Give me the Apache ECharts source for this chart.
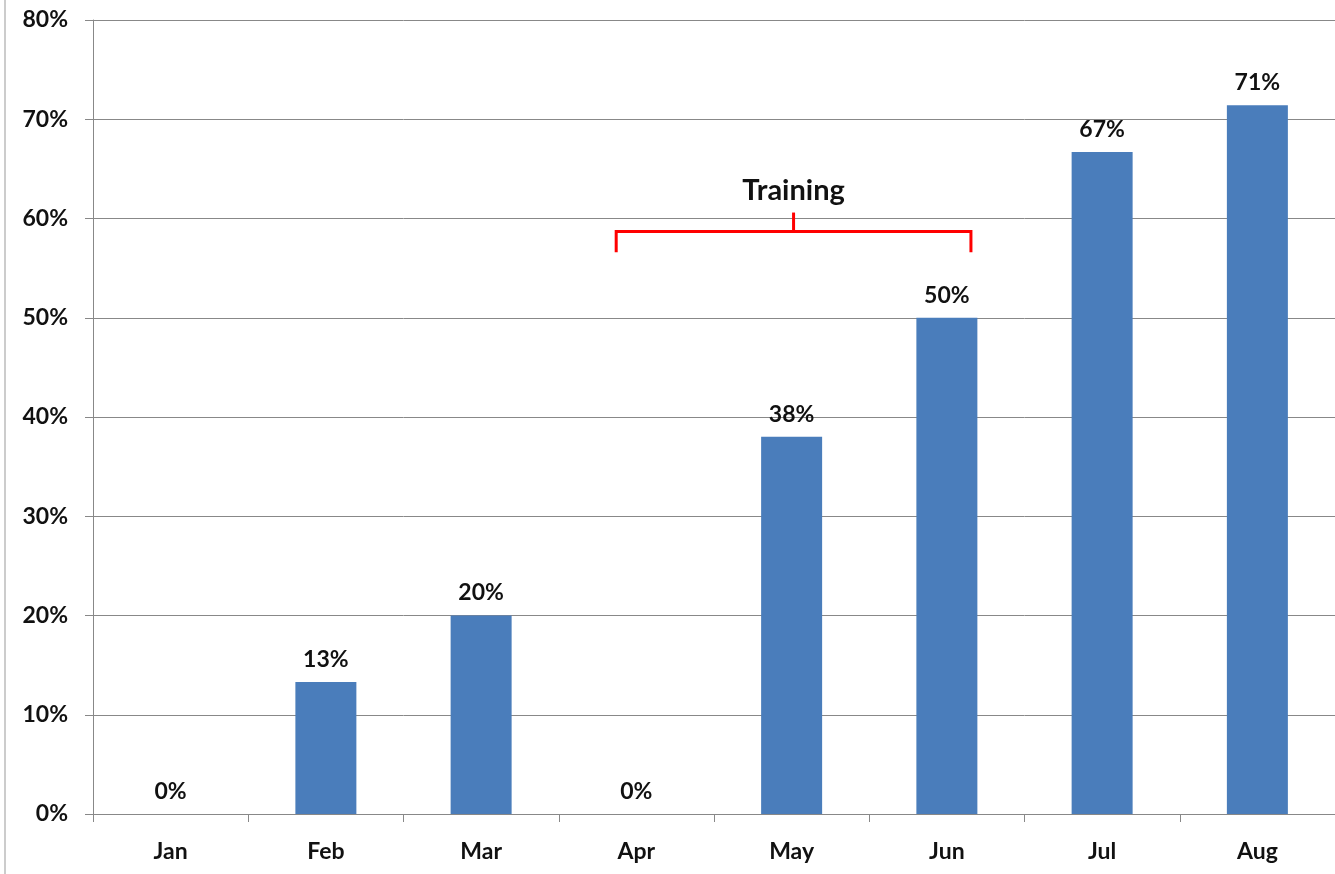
<!DOCTYPE html>
<html>
<head>
<meta charset="utf-8">
<script src="https://cdn.jsdelivr.net/npm/echarts@6/dist/echarts.min.js"></script>
<style>
  html, body { margin: 0; padding: 0; background: #fff; }
  #chart { width: 1335px; height: 874px; }
</style>
</head>
<body>
<div id="chart"></div>
<script>
var months = ['Jan', 'Feb', 'Mar', 'Apr', 'May', 'Jun', 'Jul', 'Aug'];
var rates = [0, 13.3, 20, 0, 38, 50, 66.7, 71.4];
var yTicks = [0, 10, 20, 30, 40, 50, 60, 70, 80];
var noteText = 'Training';

var font = 'Lato, "Open Sans", sans-serif';
var myChart = echarts.init(document.getElementById('chart'));

var option = {
  animation: false,
  grid: { left: 93, right: -3, top: 20, bottom: 60, containLabel: false },
  xAxis: {
    type: 'category',
    data: months,
    axisLine: { lineStyle: { color: '#888', width: 1 } },
    axisTick: { show: true, length: 8, lineStyle: { color: '#888' } },
    axisLabel: { color: '#111', fontWeight: 'bold', fontSize: 23, fontFamily: font, margin: 26 }
  },
  yAxis: {
    type: 'value',
    min: yTicks[0],
    max: yTicks[yTicks.length - 1],
    interval: 10,
    axisLine: { show: true, lineStyle: { color: '#888', width: 1 } },
    axisTick: { show: true, length: 8, lineStyle: { color: '#888' } },
    splitLine: { lineStyle: { color: '#888', width: 1 } },
    axisLabel: {
      color: '#111', fontWeight: 'bold', fontSize: 23, fontFamily: font, margin: 25,
      formatter: function (v) { return v + '%'; }
    }
  },
  series: [{
    type: 'bar',
    data: rates,
    barWidth: 61,
    itemStyle: { color: '#4a7dbb' },
    label: {
      show: true,
      position: 'top',
      distance: 11,
      color: '#111',
      fontWeight: 'bold',
      fontSize: 23,
      fontFamily: font,
      formatter: function (p) { return Math.round(p.value) + '%'; }
    }
  }]
};
myChart.setOption(option);

// bracket over the training months (Apr .. Jun)
var band = myChart.convertToPixel({ xAxisIndex: 0 }, 'May') - myChart.convertToPixel({ xAxisIndex: 0 }, 'Apr');
var x1 = myChart.convertToPixel({ xAxisIndex: 0 }, 'Apr') - 0.13 * band;
var x2 = myChart.convertToPixel({ xAxisIndex: 0 }, 'Jun') + 0.155 * band;
var xm = (x1 + x2) / 2;
var yLine = myChart.convertToPixel({ yAxisIndex: 0 }, 58.7);
var yEnd = myChart.convertToPixel({ yAxisIndex: 0 }, 56.6);
var yTop = myChart.convertToPixel({ yAxisIndex: 0 }, 60.6);
var red = { stroke: '#ff0000', lineWidth: 3 };

myChart.setOption({
  graphic: [
    { type: 'line', shape: { x1: 5, y1: 0, x2: 5, y2: 874 }, style: { stroke: '#999', lineWidth: 1 } },
    { type: 'polyline', shape: { points: [[x1, yEnd], [x1, yLine], [x2, yLine], [x2, yEnd]] }, style: red },
    { type: 'line', shape: { x1: xm, y1: yLine, x2: xm, y2: yTop }, style: red },
    {
      type: 'text', x: xm, y: yTop - 22,
      style: { text: noteText, fill: '#111', font: 'bold 29px ' + font, textAlign: 'center', textVerticalAlign: 'middle' }
    }
  ]
});
</script>
</body>
</html>
